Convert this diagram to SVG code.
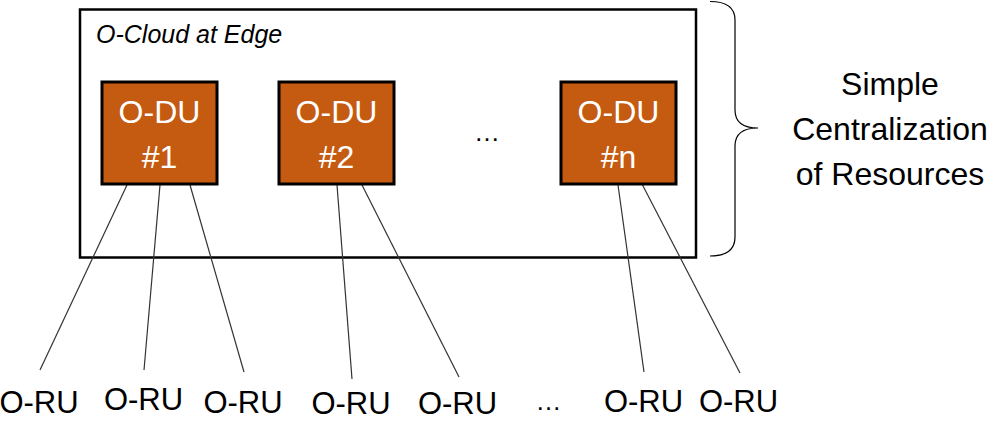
<svg xmlns="http://www.w3.org/2000/svg" width="996" height="421" viewBox="0 0 996 421">
<style>
.t{font-family:"Liberation Sans",Arial,sans-serif;fill:#000}
.du{fill:#C55A11;stroke:#000;stroke-width:3}
.dut{font-family:"Liberation Sans",Arial,sans-serif;font-size:32px;fill:#fff;text-anchor:middle}
.ru{font-family:"Liberation Sans",Arial,sans-serif;font-size:31px;fill:#000;text-anchor:middle}
.ln{stroke:#333;stroke-width:1.2;fill:none}
</style>
<rect width="996" height="421" fill="#fff"/>
<g id="cloud">
<rect x="80" y="9.5" width="616" height="248" fill="none" stroke="#000" stroke-width="2.5"/>
<text class="t" x="96" y="43" font-size="25" font-style="italic">O-Cloud at Edge</text>
</g>
<g id="connectors">
<line class="ln" x1="127" y1="185" x2="40" y2="370"/>
<line class="ln" x1="160" y1="185" x2="144" y2="370"/>
<line class="ln" x1="190" y1="185" x2="244" y2="372"/>
<line class="ln" x1="337" y1="185" x2="352" y2="379"/>
<line class="ln" x1="361" y1="183" x2="459" y2="377"/>
<line class="ln" x1="618" y1="185" x2="644" y2="372"/>
<line class="ln" x1="642" y1="184" x2="740" y2="373"/>
</g>
<g id="odu1">
<rect class="du" x="102" y="82" width="115" height="102"/>
<text class="dut" x="159.5" y="123">O-DU</text>
<text class="dut" x="159.5" y="168">#1</text>
</g>
<g id="odu2">
<rect class="du" x="279" y="82" width="115" height="102"/>
<text class="dut" x="336.5" y="123">O-DU</text>
<text class="dut" x="336.5" y="168">#2</text>
</g>
<g id="odun">
<rect class="du" x="561" y="82" width="115" height="102"/>
<text class="dut" x="618.5" y="123">O-DU</text>
<text class="dut" x="618.5" y="168">#n</text>
</g>
<text class="t" x="487" y="141" font-size="26" text-anchor="middle">…</text>
<g id="brace">
<path d="M710,1.5 Q735,1.5 735,20 L735,110 Q735,128 758,128 Q735,128 735,146 L735,237 Q735,256 710,256" fill="none" stroke="#000" stroke-width="1.2"/>
</g>
<g id="label">
<text class="t" font-size="32" text-anchor="middle"><tspan x="890" y="95">Simple</tspan><tspan x="890" y="140">Centralization</tspan><tspan x="890" y="185">of Resources</tspan></text>
</g>
<g id="orus">
<text class="ru" x="39" y="413">O-RU</text>
<text class="ru" x="143.5" y="410">O-RU</text>
<text class="ru" x="243" y="413">O-RU</text>
<text class="ru" x="351" y="414">O-RU</text>
<text class="ru" x="457.5" y="414">O-RU</text>
<text class="ru" x="643.5" y="412">O-RU</text>
<text class="ru" x="738.5" y="412">O-RU</text>
<text class="t" x="548.5" y="410" font-size="26" text-anchor="middle">…</text>
</g>
</svg>
